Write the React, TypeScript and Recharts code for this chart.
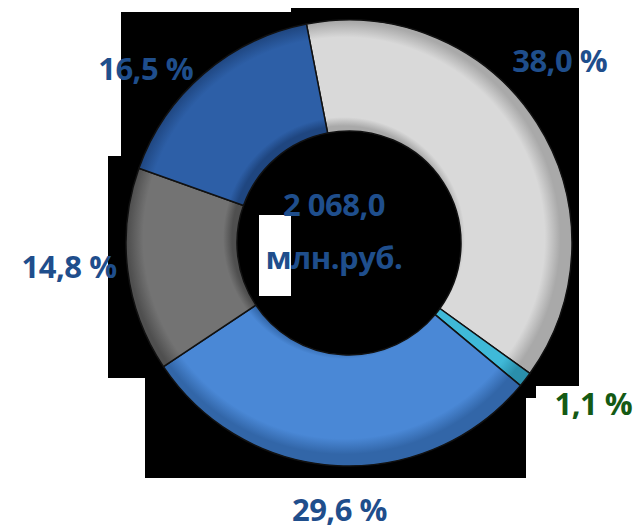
import React from 'react';
import { PieChart, Pie, Cell } from 'recharts';

// shares of 2 068,0 mln rub, clockwise from the top
const segments = ['Сегмент 1', 'Сегмент 2', 'Сегмент 3', 'Сегмент 4', 'Сегмент 5'];
const shares = [38.0, 1.1, 29.6, 14.8, 16.5];
const shareLabels = ['38,0 %', '1,1 %', '29,6 %', '14,8 %', '16,5 %'];
const totalLines = ['2 068,0', 'млн.руб.'];

const data = segments.map((name, i) => ({ name, value: shares[i], label: shareLabels[i] }));

// base / edge colours for each slice
const baseColors = ['#d9d9d9', '#3fb9d8', '#4a88d6', '#737373', '#2d5fa7'];
const edgeColors = ['#a9a9a9', '#2a8fab', '#3266a8', '#4f4f4f', '#1f4680'];
const labelColors = ['#1f4e8c', '#145a14', '#1f4e8c', '#1f4e8c', '#1f4e8c'];
// hand nudges so labels sit where the original put them
const labelNudge = [
  [-16, -30],
  [32, -3],
  [10, -4],
  [-2, -6],
  [-19, 38],
];

const CX = 344;
const CY = 238;
const INNER = 112;
const OUTER = 223;
const RAD = Math.PI / 180;

const font = '"Open Sans", Lato, sans-serif';

const renderLabel = (props: any) => {
  const { midAngle, index } = props;
  const r = 275;
  const x = CX + r * Math.cos(-midAngle * RAD) + labelNudge[index][0];
  const y = CY + r * Math.sin(-midAngle * RAD) + labelNudge[index][1];
  return (
    <text
      x={x}
      y={y}
      fill={labelColors[index]}
      textAnchor="middle"
      dominantBaseline="central"
      style={{ fontFamily: font, fontWeight: 700, fontSize: 31, letterSpacing: -0.5 }}
    >
      {shareLabels[index]}
    </text>
  );
};

const black = (left: number, top: number, right: number, bottom: number, color = '#000') => (
  <div
    key={`${left}-${top}`}
    style={{ position: 'absolute', left, top, width: right - left, height: bottom - top, background: color }}
  />
);

export default function App() {
  const inner = INNER / OUTER;
  return (
    <div style={{ position: 'fixed', left: 0, top: 0, width: 639, height: 527, background: '#fff', overflow: 'hidden' }}>
      <svg width={0} height={0} style={{ position: 'absolute' }}>
        <defs>
          {baseColors.map((c, i) => (
            <radialGradient key={i} id={`ring${i}`} gradientUnits="userSpaceOnUse" cx={CX} cy={CY} r={OUTER}>
              <stop offset={inner} stopColor={edgeColors[i]} />
              <stop offset={inner + 0.04} stopColor={c} />
              <stop offset={0.9} stopColor={c} />
              <stop offset={0.97} stopColor={edgeColors[i]} />
              <stop offset={1} stopColor={edgeColors[i]} />
            </radialGradient>
          ))}
        </defs>
      </svg>
      {/* black backdrop pieces from the source image */}
      {black(121, 12, 579, 378)}
      {black(291, 8, 579, 12)}
      {black(108, 156, 121, 378)}
      {black(145, 378, 579, 386)}
      {black(145, 386, 536, 398)}
      {black(145, 398, 526, 478)}
      {black(259, 215, 291, 296, '#fff')}
      <div style={{ position: 'absolute', left: 0, top: 0 }}>
        <PieChart width={639} height={527}>
          <Pie
            data={data}
            dataKey="value"
            cx={CX}
            cy={CY}
            innerRadius={INNER}
            outerRadius={OUTER}
            startAngle={101}
            endAngle={-259}
            stroke="#111"
            strokeWidth={1.5}
            label={renderLabel}
            labelLine={false}
            isAnimationActive={false}
          >
            {data.map((_, i) => (
              <Cell key={i} fill={`url(#ring${i})`} />
            ))}
          </Pie>
        </PieChart>
      </div>
      <div
        style={{
          position: 'absolute',
          left: 234,
          top: 178,
          width: 200,
          textAlign: 'center',
          fontFamily: font,
          fontWeight: 700,
          fontSize: 31,
          letterSpacing: -0.5,
          lineHeight: '53px',
          color: '#1f4e8c',
        }}
      >
        <div>{totalLines[0]}</div>
        <div>{totalLines[1]}</div>
      </div>
    </div>
  );
}
